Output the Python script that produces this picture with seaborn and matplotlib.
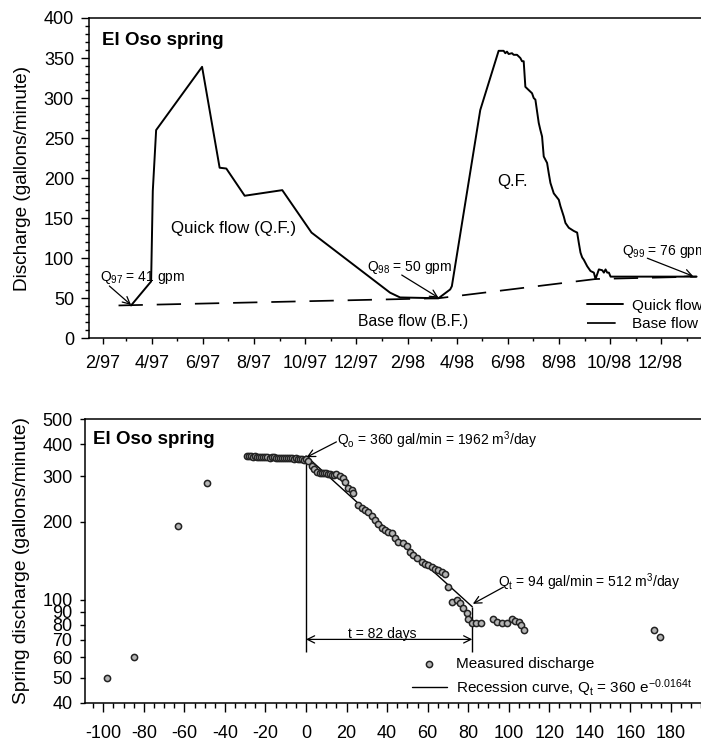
import numpy as np
import pandas as pd
import matplotlib
matplotlib.use("Agg")
import matplotlib.pyplot as plt
import matplotlib.dates as mdates
from matplotlib.ticker import FixedLocator, MultipleLocator, NullLocator
import seaborn as sns

# ---------------- data: top panel (hydrograph) ----------------
quick_dates = [
    "1997-03-07", "1997-03-31", "1997-04-02", "1997-04-06", "1997-05-31",
    "1997-06-21", "1997-06-29", "1997-07-21", "1997-09-04", "1997-10-09",
    "1998-01-11", "1998-01-23", "1998-03-10", "1998-03-24", "1998-03-26",
    "1998-04-29", "1998-05-21", "1998-05-27", "1998-05-29", "1998-05-31",
    "1998-06-02", "1998-06-06", "1998-06-08", "1998-06-12", "1998-06-14",
    "1998-06-16", "1998-06-18", "1998-06-20", "1998-06-22", "1998-06-26",
    "1998-06-30", "1998-07-02", "1998-07-04", "1998-07-08", "1998-07-10",
    "1998-07-12", "1998-07-14", "1998-07-18", "1998-07-20", "1998-07-22",
    "1998-07-26", "1998-08-01", "1998-08-03", "1998-08-07", "1998-08-09",
    "1998-08-13", "1998-08-19", "1998-08-23", "1998-08-25", "1998-08-27",
    "1998-08-29", "1998-08-31", "1998-09-04", "1998-09-08", "1998-09-12",
    "1998-09-14", "1998-09-16", "1998-09-18", "1998-09-22", "1998-09-24",
    "1998-09-26", "1998-09-28", "1998-09-30", "1998-10-02", "1999-01-13",
]
quick_q = [
    41, 71, 184, 260, 339,
    213, 212, 178, 185, 132,
    57, 51, 50, 61, 65,
    285, 359, 359, 356, 358,
    355, 356, 354, 354, 352,
    350, 346, 346, 314, 310,
    306, 300, 298, 269, 260,
    252, 227, 219, 206, 194,
    181, 173, 165, 152, 144,
    138, 134, 132, 119, 107,
    101, 98, 90, 84, 82,
    74, 80, 86, 85, 82,
    86, 82, 82, 77, 77,
]
base_dates = ["1997-02-20", "1998-03-10", "1998-09-14", "1999-01-13"]
base_q = [41, 50, 74, 77]

top_tick_dates = ["1997-02-01", "1997-04-01", "1997-06-01", "1997-08-01",
                  "1997-10-01", "1997-12-01", "1998-02-01", "1998-04-01",
                  "1998-06-01", "1998-08-01", "1998-10-01", "1998-12-01"]
top_tick_labels = ["2/97", "4/97", "6/97", "8/97", "10/97", "12/97",
                   "2/98", "4/98", "6/98", "8/98", "10/98", "12/98"]

# ---------------- data: bottom panel (recession) ----------------
meas_t = [
    -98, -85, -63, -49,
    -29, -28, -27, -26, -25, -24, -23, -22, -21, -20, -19, -18, -17, -16,
    -15, -14, -13, -12, -11, -10, -9, -8, -7, -6, -5, -4, -3, -2, -1, 0,
    1, 2.8, 4, 5.3, 7, 8, 9, 10, 11, 12, 13, 14, 15, 16.8, 18, 19.2, 20.9,
    22.5, 23.4, 25.8, 27.5, 29.1, 30.7, 32.4, 34, 35.7, 37.3, 39, 40.6,
    42.3, 44, 45.6, 48, 49.7, 51.3, 53, 54.6, 57.1, 58.8, 60.3, 62, 63.6,
    65.3, 66.9, 68.6, 70.2, 71.9, 74.3, 76, 77.6, 79.3, 80.1, 81.7, 83.8,
    86.1, 92.4, 94.1, 96.5, 99, 101.6, 103.2, 104.9, 106, 107.3,
    171.4, 174.6,
]
meas_q = [
    50, 60, 193, 284,
    360, 359, 359, 358, 359, 358, 358, 357, 357, 356, 356, 355, 357, 356,
    355, 354, 355, 354, 353, 354, 353, 352, 352, 351, 352, 350, 349, 350, 347, 350,
    345, 329, 320, 312, 308, 309, 308, 308, 307, 306, 305, 305, 306, 300, 295, 285, 270,
    266, 258, 232, 226, 222, 218, 211, 204, 197, 189, 186, 183,
    181, 173, 168, 166, 162, 153, 149, 145, 140, 138, 136, 134, 132,
    130, 128, 126, 112, 98, 100, 97, 93, 89, 84, 81, 81,
    81, 84, 82, 81, 81, 84, 83, 82, 80, 76.5,
    76.5, 72,
]
recession_t = [0, 82]
recession_q = [360, 94]

bottom_xticks = [-100, -80, -60, -40, -20, 0, 20, 40, 60, 80, 100, 120, 140, 160, 180]
bottom_yticks = [40, 50, 60, 70, 80, 90, 100, 200, 300, 400, 500]
bottom_ylabels = ["40", "50", "60", "70", "80", "90", "100", "200", "300", "400", "500"]

# ---------------- style ----------------
sns.set_theme(style="ticks", rc={
    "text.color": "black", "axes.labelcolor": "black",
    "xtick.color": "black", "ytick.color": "black",
    "axes.edgecolor": "black", "axes.linewidth": 1.1,
})
plt.rcParams["font.family"] = ["Liberation Sans", "DejaVu Sans"]
plt.rcParams["mathtext.fontset"] = "custom"
plt.rcParams["mathtext.rm"] = "Liberation Sans"
plt.rcParams["mathtext.it"] = "Liberation Sans:italic"
plt.rcParams["mathtext.bf"] = "Liberation Sans:bold"

fig = plt.figure(figsize=(7.01, 7.43), dpi=100)
ax1 = fig.add_axes([0.1274, 0.5447, 0.8997, 0.4311])
ax2 = fig.add_axes([0.1213, 0.0542, 0.9058, 0.3818])

TICK_FS = 13
ANN_FS = 10
LEG_FS = 11

# ---------------- top panel ----------------
qdf = pd.DataFrame({"date": pd.to_datetime(quick_dates), "q": quick_q})
bdf = pd.DataFrame({"date": pd.to_datetime(base_dates), "q": base_q})
sns.lineplot(data=qdf, x="date", y="q", ax=ax1, color="black", lw=1.4,
             estimator=None, sort=False, label="Quick flow")
sns.lineplot(data=bdf, x="date", y="q", ax=ax1, color="black", lw=1.25,
             estimator=None, sort=False, label="Base flow",
             linestyle=(0, (14, 8)))

ax1.set_xlim(pd.Timestamp("1997-01-16"), pd.Timestamp("1999-02-10"))
ax1.set_ylim(0, 400)
ax1.yaxis.set_major_locator(MultipleLocator(50))
ax1.yaxis.set_minor_locator(MultipleLocator(10))
ax1.set_xticks(pd.to_datetime(top_tick_dates))
ax1.set_xticklabels(top_tick_labels)
ax1.xaxis.set_minor_locator(mdates.MonthLocator())
ax1.tick_params(axis="x", which="major", length=4.5, width=1.0, pad=7.5, labelsize=TICK_FS)
ax1.tick_params(axis="x", which="minor", length=2.5, width=1.0)
ax1.tick_params(axis="y", which="major", length=5.5, width=1.0, pad=5.5, labelsize=TICK_FS)
ax1.tick_params(axis="y", which="minor", length=3.1, width=1.0)
ax1.set_xlabel("")
ax1.set_ylabel("Discharge (gallons/minute)", fontsize=13.7, labelpad=9)
for s in ["top", "right", "left", "bottom"]:
    ax1.spines[s].set_visible(True)

ax1.text(0.0197, 0.929, "El Oso spring", transform=ax1.transAxes,
         fontsize=13.5, fontweight="bold", ha="left", va="center")

def d(s):
    return mdates.date2num(pd.Timestamp(s))

ax1.text(d("1997-04-24"), 136.5, "Quick flow (Q.F.)", fontsize=12.2,
         ha="left", va="center")
ax1.text(d("1998-05-19"), 195.6, "Q.F.", fontsize=12.2, ha="left", va="center")
ax1.text(d("1997-12-04"), 20.7, "Base flow (B.F.)", fontsize=11.3,
         ha="left", va="center")

arrow_kw = dict(arrowstyle="->", lw=0.9, color="black", shrinkA=0, shrinkB=0,
                mutation_scale=13)
ax1.text(d("1997-01-29"), 76.5, "Q$_{\\mathrm{97}}$ = 41 gpm", fontsize=ANN_FS,
         ha="left", va="center")
ax1.annotate("", xy=(d("1997-03-07"), 41.6), xytext=(d("1997-02-09"), 65.3),
             arrowprops=arrow_kw)
ax1.text(d("1997-12-14"), 88, "Q$_{\\mathrm{98}}$ = 50 gpm", fontsize=ANN_FS,
         ha="left", va="center")
ax1.annotate("", xy=(d("1998-03-10"), 50.7), xytext=(d("1998-01-25"), 79),
             arrowprops=arrow_kw)
ax1.text(d("1998-10-16"), 108, "Q$_{\\mathrm{99}}$ = 76 gpm", fontsize=ANN_FS,
         ha="left", va="center")
ax1.annotate("", xy=(d("1999-01-09"), 77.5), xytext=(d("1998-11-15"), 100),
             arrowprops=arrow_kw)

leg1 = ax1.legend(loc="upper left", bbox_to_anchor=(0.7887, 0.124),
                  frameon=False, fontsize=LEG_FS, handlelength=2.4,
                  handletextpad=0.55, borderpad=0, borderaxespad=0,
                  labelspacing=0.3)
leg1.get_lines()[1].set_linestyle((0, (16.5, 12)))

# ---------------- bottom panel ----------------
mdf = pd.DataFrame({"t": meas_t, "q": meas_q})
rdf = pd.DataFrame({"t": recession_t, "q": recession_q})
sns.scatterplot(data=mdf, x="t", y="q", ax=ax2, s=20, color="#b4b4b4",
                edgecolor="#222222", linewidth=1.1, zorder=3,
                label="Measured discharge")
sns.lineplot(data=rdf, x="t", y="q", ax=ax2, color="black", lw=1.0,
             estimator=None, sort=False,
             label="Recession curve, Q$_{\\mathrm{t}}$ = 360 e$^{\\mathrm{-0.0164t}}$")

ax2.set_yscale("log")
ax2.set_xlim(-109.0, 204.2)
ax2.set_ylim(40, 500)
ax2.yaxis.set_major_locator(FixedLocator(bottom_yticks))
ax2.set_yticklabels(bottom_ylabels)
ax2.yaxis.set_minor_locator(NullLocator())
ax2.set_xticks(bottom_xticks)
ax2.set_xticklabels([str(v) for v in bottom_xticks])
ax2.xaxis.set_minor_locator(MultipleLocator(5))
ax2.tick_params(axis="x", which="major", length=6.5, width=1.0, pad=9.5, labelsize=TICK_FS)
ax2.tick_params(axis="x", which="minor", length=3.5, width=1.0)
ax2.tick_params(axis="y", which="major", length=3.6, width=1.0, pad=5.5, labelsize=TICK_FS)
ax2.set_xlabel("")
ax2.set_ylabel("Spring discharge (gallons/minute)", fontsize=13.9, labelpad=9)
for s in ["top", "right", "left", "bottom"]:
    ax2.spines[s].set_visible(True)

ax2.text(0.0131, 0.9295, "El Oso spring", transform=ax2.transAxes,
         fontsize=13.5, fontweight="bold", ha="left", va="center")

# vertical guide lines and t-arrow
ax2.vlines(recession_t, [63, 63], recession_q, color="black", lw=1.0)
ax2.annotate("", xy=(recession_t[0], 70.3), xytext=(recession_t[1], 70.3),
             arrowprops=dict(arrowstyle="<->", lw=0.9, color="black",
                             shrinkA=0, shrinkB=0, mutation_scale=13))
ax2.text(37.5, 71.3, "t = 82 days", fontsize=ANN_FS, ha="center", va="baseline")

ax2.text(15.1, 415, "Q$_{\\mathrm{o}}$ = 360 gal/min = 1962 m$^{3}$/day",
         fontsize=ANN_FS, ha="left", va="center")
ax2.annotate("", xy=(0.3, 356), xytext=(15, 408), arrowprops=arrow_kw)
ax2.text(94.9, 117.4, "Q$_{\\mathrm{t}}$ = 94 gal/min = 512 m$^{3}$/day",
         fontsize=ANN_FS, ha="left", va="center")
ax2.annotate("", xy=(82.3, 96.5), xytext=(97.4, 112), arrowprops=arrow_kw)

h, l = ax2.get_legend_handles_labels()
leg2 = ax2.legend(h, l, loc="upper left", bbox_to_anchor=(0.5145, 0.161),
                  frameon=False, fontsize=LEG_FS, handlelength=2.3,
                  handletextpad=0.6, borderpad=0, borderaxespad=0,
                  labelspacing=0.4)

fig.savefig("out.png", dpi=100)
